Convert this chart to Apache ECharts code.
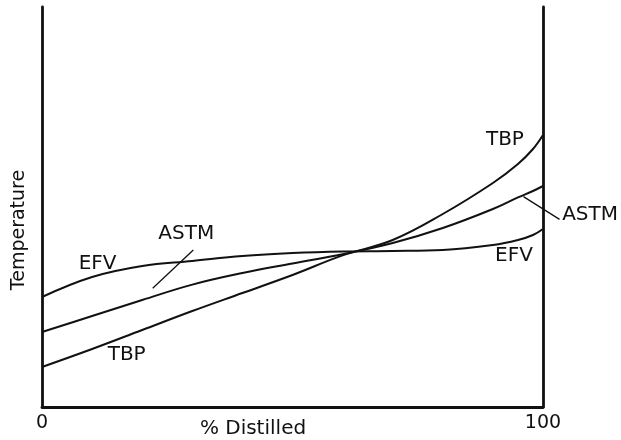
<!DOCTYPE html>
<html>
<head>
<meta charset="utf-8">
<script src="https://cdn.jsdelivr.net/npm/echarts@6/dist/echarts.min.js"></script>
<style>
  html, body { margin: 0; padding: 0; background: #fff; }
  #chart { width: 621px; height: 440px; }
</style>
</head>
<body>
<div id="chart"></div>
<script>
// % distilled (x) and relative temperature (y, arbitrary 0-100 scale)
var pctDistilled = [0, 10, 20, 30, 40, 50, 60, 70, 80, 90, 95, 98, 100];
var tbp  = [10, 14.5, 19.25, 24, 28.5, 33, 37.9, 41.75, 48.25, 56, 60.75, 64.5, 68];
var astm = [18.75, 22.75, 26.75, 30.6, 33.5, 35.9, 38.2, 41, 44.75, 49.5, 52.4, 54, 55.25];
var efv  = [27.5, 32.5, 35.25, 36.5, 37.75, 38.5, 38.9, 39, 39.25, 40.5, 41.75, 43, 44.5];

var xTickLabels = ['0', '100'];

// curve labels, in data units
var curveLabels = [
  ['TBP', 92.4, 66.8],
  ['ASTM', 109.4, 48],
  ['EFV', 94.2, 37.8],
  ['EFV', 11.1, 35.9],
  ['ASTM', 28.8, 43.2],
  ['TBP', 16.9, 13]
];
// leader lines for the ASTM labels
var leaders = [
  [[30.2, 39.25], [22.1, 29.7]],
  [[96.1, 52.6], [103.3, 46.9]]
];

function pairs(ys) {
  return pctDistilled.map(function (x, i) { return [x, ys[i]]; });
}

var ink = '#111';
var font = 'DejaVu Sans';

var myChart = echarts.init(document.getElementById('chart'));

var curveStyle = { color: ink, width: 2 };

var series = [
  { name: 'TBP', data: pairs(tbp) },
  { name: 'ASTM', data: pairs(astm) },
  { name: 'EFV', data: pairs(efv) }
].map(function (s) {
  return {
    name: s.name,
    type: 'line',
    data: s.data,
    smooth: 0.4,
    symbol: 'none',
    lineStyle: curveStyle,
    silent: true
  };
});

series.push({
  type: 'lines',
  coordinateSystem: 'cartesian2d',
  clip: false,
  silent: true,
  lineStyle: { color: ink, width: 1.3, opacity: 1 },
  data: leaders.map(function (seg) { return { coords: seg }; })
});

series.push({
  type: 'scatter',
  symbolSize: 0,
  clip: false,
  silent: true,
  itemStyle: { opacity: 1 },
  data: curveLabels.map(function (l) { return { name: l[0], value: [l[1], l[2]] }; }),
  label: {
    show: true,
    position: 'inside',
    formatter: '{b}',
    color: '#111',
    fontFamily: font,
    fontSize: 20
  }
});

var option = {
  backgroundColor: '#fff',
  animation: false,
  grid: { left: 42, right: 78, top: 7, bottom: 33, outerBoundsMode: 'none' },
  xAxis: {
    type: 'value',
    min: 0,
    max: 100,
    interval: 100,
    name: '% Distilled',
    nameLocation: 'middle',
    nameGap: 12,
    nameMoveOverlap: false,
    nameTextStyle: { color: '#111', fontFamily: font, fontSize: 20, padding: [0, 79, 0, 0], verticalAlign: 'top' },
    axisLine: { lineStyle: { color: ink, width: 2.8 } },
    axisTick: { show: false },
    splitLine: { show: false },
    axisLabel: {
      color: '#111',
      fontFamily: font,
      fontSize: 19,
      margin: 7,
      formatter: function (v) { return v === 0 ? xTickLabels[0] : xTickLabels[1]; }
    }
  },
  yAxis: [{
    type: 'value',
    min: 0,
    max: 100,
    name: 'Temperature',
    nameLocation: 'middle',
    nameGap: 13,
    nameMoveOverlap: false,
    nameTextStyle: { color: '#111', fontFamily: font, fontSize: 19, padding: [0, 46, 0, 0] },
    axisLine: { show: true, lineStyle: { color: ink, width: 2.8 } },
    axisTick: { show: false },
    axisLabel: { show: false },
    splitLine: { show: false }
  }, {
    type: 'value',
    position: 'right',
    min: 0,
    max: 100,
    axisLine: { show: true, lineStyle: { color: ink, width: 2.8 } },
    axisTick: { show: false },
    axisLabel: { show: false },
    splitLine: { show: false }
  }],
  series: series
};

myChart.setOption(option);
</script>
</body>
</html>
